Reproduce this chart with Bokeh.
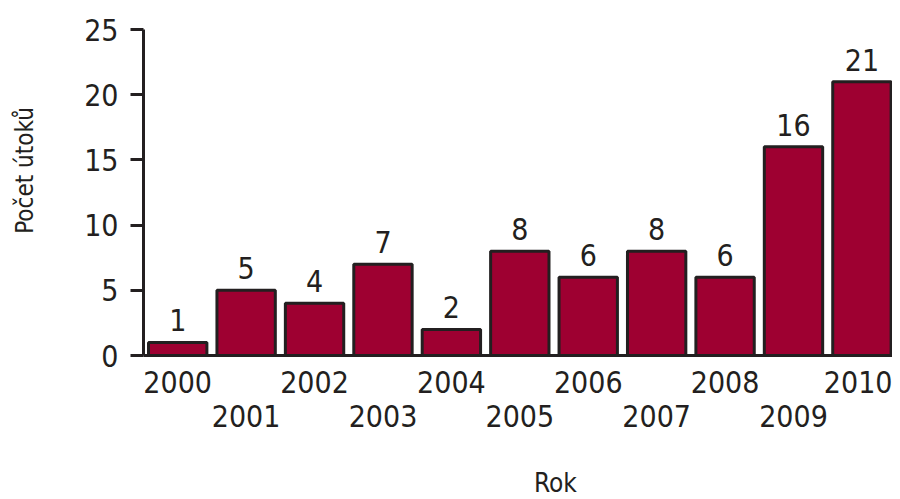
import math
from bokeh.plotting import figure
from bokeh.models import ColumnDataSource, FixedTicker, LinearAxis, Label, Range1d
from bokeh.core.properties import value
from bokeh.embed import file_html
from bokeh.resources import INLINE

years = ["2000", "2001", "2002", "2003", "2004", "2005", "2006", "2007", "2008", "2009", "2010"]
attacks = [1, 5, 4, 7, 2, 8, 6, 8, 6, 16, 21]
y_ticks = [0, 5, 10, 15, 20, 25]
x_title = "Rok"
y_title = "Počet útoků"

FONT = "DejaVu Sans Condensed"
DARK = "#231F20"
BAR = "#9E0031"

W, H = 892, 499
X0, XPX = 143, 68.42      # pixel of x=-0.5, pixels per category
Y0, YPX = 355, 13.04      # pixel of y=0, pixels per unit

idx = list(range(len(years)))
src = ColumnDataSource(dict(x=idx, top=attacks, lbl=[str(v) for v in attacks]))

x_start = -0.5 - X0 / XPX
x_end = -0.5 + (W - X0) / XPX
y_end = Y0 / YPX
y_start = -(H - Y0) / YPX

p = figure(width=W, height=H, output_backend="svg", toolbar_location=None,
           x_range=Range1d(x_start, x_end), y_range=Range1d(y_start, y_end),
           min_border=0, x_axis_location=None, y_axis_location=None)
p.outline_line_color = None
p.xgrid.visible = False
p.ygrid.visible = False

p.vbar(x="x", top="top", bottom=0, width=0.853, source=src,
       fill_color=BAR, line_color=DARK, line_width=3)
p.text(x="x", y="top", text="lbl", source=src, text_align="center",
       text_baseline="middle", y_offset=-22, text_font=value(FONT),
       text_font_size="30px", text_color=DARK)

# y axis
ya = LinearAxis(ticker=FixedTicker(ticks=y_ticks), fixed_location=-0.5, bounds=(0, 25))
ya.axis_line_color = DARK
ya.axis_line_width = 3
ya.major_tick_line_color = DARK
ya.major_tick_line_width = 3
ya.major_tick_out = 13
ya.major_tick_in = 0
ya.minor_tick_line_color = None
ya.major_label_standoff = 12
ya.major_label_text_font = FONT
ya.major_label_text_font_size = "30px"
ya.major_label_text_color = DARK
p.add_layout(ya, "left")

# x axis, two staggered rows of year labels
ov1 = {i: (years[i] if i % 2 == 0 else "") for i in idx}
ov2 = {i: (years[i] if i % 2 == 1 else "") for i in idx}
xa1 = LinearAxis(ticker=FixedTicker(ticks=idx), major_label_overrides=ov1,
                 fixed_location=0, bounds=(-0.5, x_end))
xa1.axis_line_color = DARK
xa1.axis_line_width = 3
xa1.major_tick_line_color = None
xa1.minor_tick_line_color = None
xa1.major_tick_out = 0
xa1.major_tick_in = 0
xa1.major_label_standoff = 15
xa1.major_label_text_font = FONT
xa1.major_label_text_font_size = "30px"
xa1.major_label_text_color = DARK
p.add_layout(xa1, "below")

xa2 = LinearAxis(ticker=FixedTicker(ticks=idx), major_label_overrides=ov2,
                 fixed_location=0, bounds=(-0.5, x_end))
xa2.axis_line_color = None
xa2.major_tick_line_color = None
xa2.minor_tick_line_color = None
xa2.major_tick_out = 0
xa2.major_tick_in = 0
xa2.major_label_standoff = 49
xa2.major_label_text_font = FONT
xa2.major_label_text_font_size = "30px"
xa2.major_label_text_color = DARK
p.add_layout(xa2, "below")

p.add_layout(Label(x=5.52, y=-10.9, text=x_title, text_align="center",
                   text_baseline="bottom", text_font=FONT, text_font_size="26px",
                   text_color=DARK))
p.add_layout(Label(x=-2.225, y=14.19, text=y_title, angle=math.pi / 2,
                   text_align="center", text_baseline="middle", text_font=FONT,
                   text_font_size="24px", text_color=DARK))

open("out.html", "w").write(file_html(p, INLINE))
